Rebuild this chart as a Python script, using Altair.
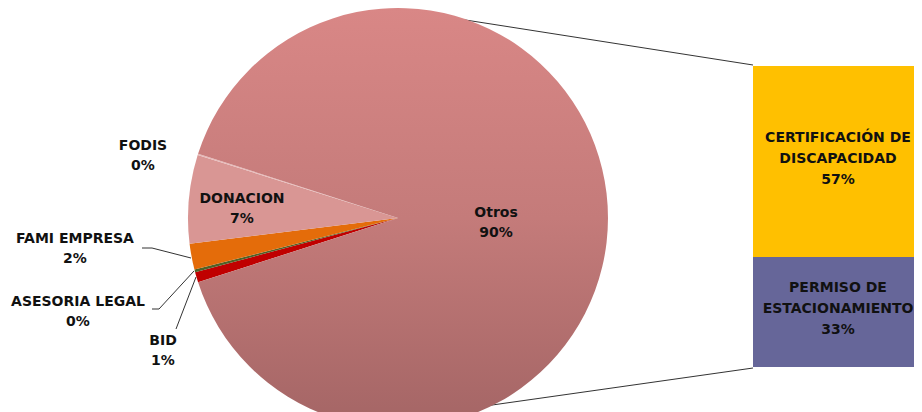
import math
import altair as alt
import pandas as pd

# ---------------- data ----------------
pie_cats = ["BID", "ASESORIA LEGAL", "FAMI EMPRESA", "DONACION", "FODIS", "Otros"]
pie_vals = [0.8, 0.2, 2.0, 6.8, 0.1, 90.1]
pie_pct = ["1%", "0%", "2%", "7%", "0%", "90%"]
pie_colors = ["#c00000", "#4f6228", "#e46c0a", "#d99694", "#e6b9b8", "#c27c7b"]

bar_cats = ["CERTIFICACIÓN DE\nDISCAPACIDAD", "PERMISO DE\nESTACIONAMIENTO"]
bar_vals = [57.2, 32.9]
bar_pct = ["57%", "33%"]
bar_colors = ["#ffc000", "#666699"]

# ---------------- layout (chart pixel coordinates) ----------------
W, H = 906, 396
CX, CY, R = 390, 204, 210
label_pos = {  # centre x, first-line y
    "Otros": (488, 199),
    "DONACION": (234, 185),
    "FODIS": (135, 132),
    "FAMI EMPRESA": (67, 225),
    "ASESORIA LEGAL": (70, 288),
    "BID": (155, 327),
}
leaders = [  # x, y, x2, y2
    (432, 2, 745, 51),
    (442, 397, 745, 354),
    (134, 234, 144, 234), (144, 234, 183, 244),
    (144, 295, 151, 295), (151, 295, 186, 257),
    (188, 263, 168, 315),
]
BAR_X0, BAR_X1, BAR_Y0, BAR_Y1 = 745, 906, 52, 353

# ---------------- frames ----------------
small_total = sum(pie_vals[:-1])
total = sum(pie_vals)
start = math.radians(270 - small_total / total * 360 / 2)

pie_df = pd.DataFrame({"cat": pie_cats, "val": pie_vals, "ord": list(range(len(pie_cats)))})
lab_df = pd.DataFrame({
    "txt": [f"{c}\n{p}" for c, p in zip(pie_cats, pie_pct)],
    "lx": [label_pos[c][0] for c in pie_cats],
    "ly": [label_pos[c][1] for c in pie_cats],
})
bar_df = pd.DataFrame({"cat": bar_cats, "val": bar_vals, "ord": [0, 1],
                       "txt": [f"{c}\n{p}" for c, p in zip(bar_cats, bar_pct)]})
lead_df = pd.DataFrame(leaders, columns=["x", "y", "x2", "y2"])

xs = alt.Scale(domain=[0, W], range=[0, W])
ys = alt.Scale(domain=[0, H], range=[0, H])
bys = alt.Scale(domain=[0, sum(bar_vals)], range=[BAR_Y0, BAR_Y1])

FONT = "DejaVu Sans"
FS = 14

lines = alt.Chart(lead_df).mark_rule(color="#333333", strokeWidth=1).encode(
    x=alt.X("x:Q", scale=xs, axis=None),
    y=alt.Y("y:Q", scale=ys, axis=None),
    x2="x2:Q", y2="y2:Q",
)

grad = {"gradient": "linear", "x1": 0, "y1": 0, "x2": 0, "y2": 1,
        "stops": [{"offset": 0, "color": "#d98786"}, {"offset": 0.5, "color": "#c47b7a"},
                  {"offset": 1, "color": "#a46565"}]}

pie = alt.Chart(pie_df).mark_arc(radius=R, stroke=None).encode(
    theta=alt.Theta("val:Q", stack=True, scale=alt.Scale(range=[start, start + 2 * math.pi])),
    order=alt.Order("ord:Q"),
    fill=alt.Fill("cat:N", scale=alt.Scale(domain=pie_cats, range=pie_colors), legend=None,
                  condition={"test": "datum.cat === 'Otros'", "value": grad}),
    x=alt.value(CX), y=alt.value(CY),
)

pie_labels = alt.Chart(lab_df).mark_text(
    font=FONT, fontWeight="bold", fontSize=FS, lineBreak="\n", lineHeight=20,
    color="#111111", align="center", baseline="middle",
).encode(
    x=alt.X("lx:Q", scale=xs, axis=None),
    y=alt.Y("ly:Q", scale=ys, axis=None),
    text="txt:N",
)

stacked = alt.Chart(bar_df).transform_stack(
    stack="val", as_=["v0", "v1"], groupby=[], sort=[alt.SortField("ord")]
).transform_calculate(mid="(datum.v0 + datum.v1) / 2")

bar = stacked.mark_rect().encode(
    x=alt.value(BAR_X0), x2=alt.value(BAR_X1),
    y=alt.Y("v0:Q", scale=bys, axis=None), y2="v1:Q",
    color=alt.Color("cat:N", scale=alt.Scale(domain=bar_cats, range=bar_colors), legend=None),
)

bar_labels = stacked.mark_text(
    font=FONT, fontWeight="bold", fontSize=FS, lineBreak="\n", lineHeight=21,
    color="#111111", align="center", baseline="middle", dy=-24,
).encode(
    x=alt.value(830),
    y=alt.Y("mid:Q", scale=bys, axis=None),
    text="txt:N",
)

chart = alt.layer(lines, pie, pie_labels, bar, bar_labels).resolve_scale(
    x="independent", y="independent", theta="independent", color="independent", fill="independent"
).properties(width=W, height=H, padding=0).configure_view(stroke=None)

chart.save("out.html", embed_options={"renderer": "svg", "actions": False})
